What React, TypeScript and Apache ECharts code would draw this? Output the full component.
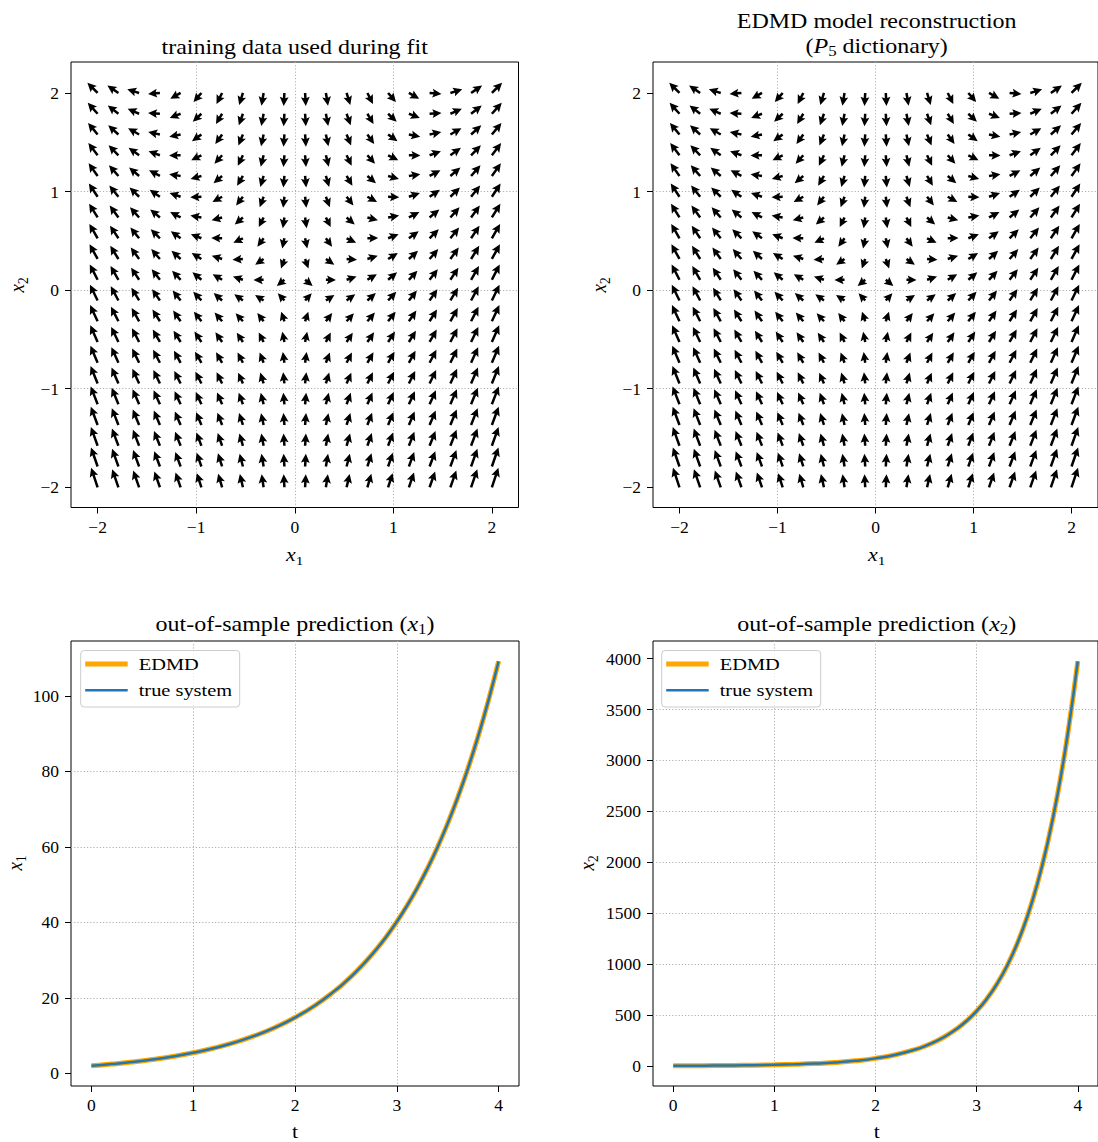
import { useEffect, useRef } from "react";
import * as echarts from "echarts";

// ---- vector field on a 20 x 20 grid over [-2, 2]^2 ----
const gridX1 = [-2, -1.789, -1.579, -1.368, -1.158, -0.947, -0.737, -0.526, -0.316, -0.105, 0.105, 0.316, 0.526, 0.737, 0.947, 1.158, 1.368, 1.579, 1.789, 2];
// rows listed from top (x2 = 2) to bottom (x2 = -2)
const gridX2 = [2, 1.789, 1.579, 1.368, 1.158, 0.947, 0.737, 0.526, 0.316, 0.105, -0.105, -0.316, -0.526, -0.737, -0.947, -1.158, -1.368, -1.579, -1.789, -2];
// horizontal component, one value per column
const fieldU = [-2.0, -1.79, -1.58, -1.37, -1.16, -0.95, -0.74, -0.53, -0.32, -0.11, 0.11, 0.32, 0.53, 0.74, 0.95, 1.16, 1.37, 1.58, 1.79, 2.0];
// vertical component, one row per entry of gridX2
const fieldV = [
  [2.0, 1.2, 0.49, -0.13, -0.66, -1.1, -1.46, -1.72, -1.9, -1.99, -1.99, -1.9, -1.72, -1.46, -1.1, -0.66, -0.13, 0.49, 1.2, 2.0],
  [2.21, 1.41, 0.7, 0.08, -0.45, -0.89, -1.25, -1.51, -1.69, -1.78, -1.78, -1.69, -1.51, -1.25, -0.89, -0.45, 0.08, 0.7, 1.41, 2.21],
  [2.42, 1.62, 0.91, 0.29, -0.24, -0.68, -1.04, -1.3, -1.48, -1.57, -1.57, -1.48, -1.3, -1.04, -0.68, -0.24, 0.29, 0.91, 1.62, 2.42],
  [2.63, 1.83, 1.13, 0.5, -0.03, -0.47, -0.83, -1.09, -1.27, -1.36, -1.36, -1.27, -1.09, -0.83, -0.47, -0.03, 0.5, 1.13, 1.83, 2.63],
  [2.84, 2.04, 1.34, 0.71, 0.18, -0.26, -0.62, -0.88, -1.06, -1.15, -1.15, -1.06, -0.88, -0.62, -0.26, 0.18, 0.71, 1.34, 2.04, 2.84],
  [3.05, 2.25, 1.55, 0.93, 0.39, -0.05, -0.4, -0.67, -0.85, -0.94, -0.94, -0.85, -0.67, -0.4, -0.05, 0.39, 0.93, 1.55, 2.25, 3.05],
  [3.26, 2.46, 1.76, 1.14, 0.6, 0.16, -0.19, -0.46, -0.64, -0.73, -0.73, -0.64, -0.46, -0.19, 0.16, 0.6, 1.14, 1.76, 2.46, 3.26],
  [3.47, 2.68, 1.97, 1.35, 0.82, 0.37, 0.02, -0.25, -0.43, -0.52, -0.52, -0.43, -0.25, 0.02, 0.37, 0.82, 1.35, 1.97, 2.68, 3.47],
  [3.68, 2.89, 2.18, 1.56, 1.03, 0.58, 0.23, -0.04, -0.22, -0.31, -0.31, -0.22, -0.04, 0.23, 0.58, 1.03, 1.56, 2.18, 2.89, 3.68],
  [3.9, 3.1, 2.39, 1.77, 1.24, 0.79, 0.44, 0.17, -0.01, -0.09, -0.09, -0.01, 0.17, 0.44, 0.79, 1.24, 1.77, 2.39, 3.1, 3.9],
  [4.11, 3.31, 2.6, 1.98, 1.45, 1.0, 0.65, 0.38, 0.21, 0.12, 0.12, 0.21, 0.38, 0.65, 1.0, 1.45, 1.98, 2.6, 3.31, 4.11],
  [4.32, 3.52, 2.81, 2.19, 1.66, 1.21, 0.86, 0.59, 0.42, 0.33, 0.33, 0.42, 0.59, 0.86, 1.21, 1.66, 2.19, 2.81, 3.52, 4.32],
  [4.53, 3.73, 3.02, 2.4, 1.87, 1.42, 1.07, 0.8, 0.63, 0.54, 0.54, 0.63, 0.8, 1.07, 1.42, 1.87, 2.4, 3.02, 3.73, 4.53],
  [4.74, 3.94, 3.23, 2.61, 2.08, 1.64, 1.28, 1.01, 0.84, 0.75, 0.75, 0.84, 1.01, 1.28, 1.64, 2.08, 2.61, 3.23, 3.94, 4.74],
  [4.95, 4.15, 3.44, 2.82, 2.29, 1.85, 1.49, 1.22, 1.05, 0.96, 0.96, 1.05, 1.22, 1.49, 1.85, 2.29, 2.82, 3.44, 4.15, 4.95],
  [5.16, 4.36, 3.65, 3.03, 2.5, 2.06, 1.7, 1.44, 1.26, 1.17, 1.17, 1.26, 1.44, 1.7, 2.06, 2.5, 3.03, 3.65, 4.36, 5.16],
  [5.37, 4.57, 3.86, 3.24, 2.71, 2.27, 1.91, 1.65, 1.47, 1.38, 1.38, 1.47, 1.65, 1.91, 2.27, 2.71, 3.24, 3.86, 4.57, 5.37],
  [5.58, 4.78, 4.07, 3.45, 2.92, 2.48, 2.12, 1.86, 1.68, 1.59, 1.59, 1.68, 1.86, 2.12, 2.48, 2.92, 3.45, 4.07, 4.78, 5.58],
  [5.79, 4.99, 4.28, 3.66, 3.13, 2.69, 2.33, 2.07, 1.89, 1.8, 1.8, 1.89, 2.07, 2.33, 2.69, 3.13, 3.66, 4.28, 4.99, 5.79],
  [6.0, 5.2, 4.49, 3.87, 3.34, 2.9, 2.54, 2.28, 2.1, 2.01, 2.01, 2.1, 2.28, 2.54, 2.9, 3.34, 3.87, 4.49, 5.2, 6.0],
];
// the P5 reconstruction agrees with the training field to plotting precision
const edmdFieldU = fieldU;
const edmdFieldV = fieldV;

// ---- out-of-sample trajectories (finer sampling where the curves steepen) ----
const timeT = [0, 0.2, 0.4, 0.6, 0.8, 1.0, 1.2, 1.4, 1.6, 1.8, 2.0, 2.2, 2.4, 2.5, 2.6, 2.7, 2.8, 2.9, 3.0, 3.1, 3.2, 3.3, 3.4, 3.5, 3.6, 3.7, 3.8, 3.9, 4.0];
const edmdX1 = [2.0, 2.44, 2.98, 3.64, 4.45, 5.44, 6.64, 8.11, 9.91, 12.1, 14.78, 18.05, 22.05, 24.36, 26.93, 29.76, 32.89, 36.34, 40.17, 44.4, 49.07, 54.23, 59.93, 66.23, 73.2, 80.89, 89.4, 98.81, 109.2];
const trueX1 = [2.0, 2.44, 2.98, 3.64, 4.45, 5.44, 6.64, 8.11, 9.91, 12.1, 14.78, 18.05, 22.05, 24.36, 26.93, 29.76, 32.89, 36.34, 40.17, 44.4, 49.07, 54.23, 59.93, 66.23, 73.2, 80.89, 89.4, 98.81, 109.2];
const edmdX2 = [0, 0.9, 2.1, 3.7, 6.0, 9.4, 14.3, 21.6, 32.4, 48.6, 72.6, 108.5, 161.9, 197.8, 241.6, 295.1, 360.5, 440.3, 537.8, 656.9, 802.4, 980.1, 1197.1, 1462.1, 1785.9, 2181.3, 2664.2, 3254.1, 3974.6];
const trueX2 = [0, 0.9, 2.1, 3.7, 6.0, 9.4, 14.3, 21.6, 32.4, 48.6, 72.6, 108.5, 161.9, 197.8, 241.6, 295.1, 360.5, 440.3, 537.8, 656.9, 802.4, 980.1, 1197.1, 1462.1, 1785.9, 2181.3, 2664.2, 3254.1, 3974.6];

// ---- tick labels ----
const fieldTicks = [-2, -1, 0, 1, 2];
const timeTicks = [0, 1, 2, 3, 4];
const x1Ticks = [0, 20, 40, 60, 80, 100];
const x2Ticks = [0, 500, 1000, 1500, 2000, 2500, 3000, 3500, 4000];

const EDMD_NAME = "EDMD";
const TRUE_NAME = "true system";

const FONT = "'Liberation Serif', 'DejaVu Serif', serif";
const TICK_SIZE = 17.5;
const ORANGE = "#ffa500";
const BLUE = "#1f77b4";

const minus = (v: number) => String(v).replace("-", "\u2212");

function fieldData(u: number[], v: number[][]) {
  const out: number[][] = [];
  gridX2.forEach((y, i) => {
    gridX1.forEach((x, j) => {
      out.push([x, y, u[j], v[i][j]]);
    });
  });
  return out;
}

// quiver arrow drawn from its tail point; pixel length grows with the vector's magnitude
function renderArrow(_params: any, api: any) {
  const p = api.coord([api.value(0), api.value(1)]);
  const u = api.value(2);
  const v = api.value(3);
  const mag = Math.hypot(u, v);
  const len = 9.5 + 1.75 * mag;
  const ang = Math.atan2(-v, u);
  const c = Math.cos(ang);
  const s = Math.sin(ang);
  const w = 1.25;
  const hw = 4.4;
  const hl = 9.0;
  const ha = 7.8;
  const local = [
    [0, -w], [len - ha, -w], [len - hl, -hw], [len, 0],
    [len - hl, hw], [len - ha, w], [0, w],
  ];
  const points = local.map(([a, b]) => [p[0] + a * c - b * s, p[1] + a * s + b * c]);
  return { type: "polygon", shape: { points }, style: { fill: "#000" } };
}

const splitLine = {
  show: true,
  showMinLine: false,
  showMaxLine: false,
  lineStyle: { color: "#b0b0b0", width: 1, type: [1.2, 2] },
};

function valueAxis(gridIndex: number, min: number, max: number, step: number, ticks: number[], margin: number, splitNumber: number) {
  return {
    type: "value",
    gridIndex,
    min,
    max,
    splitNumber,
    minInterval: step,
    maxInterval: step,
    axisLine: { show: false, onZero: false },
    axisTick: { show: true, inside: false, length: 6, lineStyle: { color: "#000", width: 1 }, customValues: ticks },
    axisLabel: {
      customValues: ticks,
      formatter: minus,
      margin,
      color: "#000",
      fontFamily: FONT,
      fontSize: TICK_SIZE,
    },
    splitLine,
  };
}

const rich = (size: number) => ({
  r: { fontFamily: FONT, fontSize: size, color: "#000", lineHeight: size + 4 },
  i: { fontFamily: FONT, fontSize: size, fontStyle: "italic", color: "#000", lineHeight: size + 4 },
  s: { fontFamily: FONT, fontSize: size * 0.7, color: "#000", verticalAlign: "bottom", lineHeight: size * 0.7 },
});

// centred text; the horizontal stretch widens the serif face towards TeX proportions
function label(x: number, y: number, text: string, size: number, stretch: number, rotate = false) {
  return {
    type: "text",
    x,
    y,
    rotation: rotate ? Math.PI / 2 : 0,
    scaleX: rotate ? 1 : stretch,
    scaleY: rotate ? stretch : 1,
    style: {
      text,
      rich: rich(size),
      align: "center",
      verticalAlign: "middle",
      textAlign: "center",
      textVerticalAlign: "middle",
    },
    z: 50,
  };
}

function legend(x0: number, y0: number) {
  const entry = (text: string, y: number) => ({
    type: "text",
    x: x0 + 58,
    y,
    scaleX: 1.2,
    style: {
      text,
      fontFamily: FONT,
      fontSize: 17,
      fill: "#000",
      align: "left",
      verticalAlign: "middle",
      textAlign: "left",
      textVerticalAlign: "middle",
    },
    z: 61,
  });
  return [
    {
      type: "rect",
      shape: { x: x0, y: y0, width: 159, height: 56.5, r: 3.5 },
      style: { fill: "rgba(255,255,255,0.8)", stroke: "#cccccc", lineWidth: 1 },
      z: 60,
    },
    { type: "line", shape: { x1: x0 + 4.5, y1: y0 + 13.5, x2: x0 + 47, y2: y0 + 13.5 }, style: { stroke: ORANGE, lineWidth: 5 }, z: 61 },
    entry(EDMD_NAME, y0 + 13.5),
    { type: "line", shape: { x1: x0 + 4.5, y1: y0 + 39.8, x2: x0 + 47, y2: y0 + 39.8 }, style: { stroke: BLUE, lineWidth: 2.5 }, z: 61 },
    entry(TRUE_NAME, y0 + 39.8),
  ];
}

const pairs = (ys: number[]) => timeT.map((t, k) => [t, ys[k]]);

export default function App() {
  const ref = useRef<HTMLDivElement>(null);

  useEffect(() => {
    if (!ref.current) return;
    const chart = echarts.init(ref.current, undefined, { renderer: "svg" });

    const gridBox = { show: true, borderColor: "#000", borderWidth: 1, backgroundColor: "transparent" };

    const lineSeries = (name: string, ys: number[], color: string, width: number, idx: number, z: number) => ({
      type: "line",
      name,
      xAxisIndex: idx,
      yAxisIndex: idx,
      data: pairs(ys),
      showSymbol: false,
      symbol: "none",
      smooth: true,
      lineStyle: { color, width },
      itemStyle: { color },
      z,
    });

    const option: any = {
      animation: false,
      backgroundColor: "#fff",
      grid: [
        { left: 71, top: 62, width: 447.5, height: 445.5, ...gridBox },
        { left: 653, top: 62, width: 447.5, height: 445.5, ...gridBox },
        { left: 71, top: 641, width: 448, height: 445, ...gridBox },
        { left: 653, top: 641, width: 447.5, height: 445, ...gridBox },
      ],
      xAxis: [
        valueAxis(0, -2.27, 2.27, 1, fieldTicks, 10, 5),
        valueAxis(1, -2.27, 2.27, 1, fieldTicks, 10, 5),
        valueAxis(2, -0.2, 4.2, 1, timeTicks, 10, 5),
        valueAxis(3, -0.2, 4.2, 1, timeTicks, 10, 5),
      ],
      yAxis: [
        valueAxis(0, -2.205, 2.314, 1, fieldTicks, 12, 5),
        valueAxis(1, -2.205, 2.314, 1, fieldTicks, 12, 5),
        valueAxis(2, -3.36, 114.56, 20, x1Ticks, 12, 6),
        valueAxis(3, -198.7, 4173.3, 500, x2Ticks, 12, 9),
      ],
      series: [
        {
          type: "custom",
          name: "training data",
          xAxisIndex: 0,
          yAxisIndex: 0,
          data: fieldData(fieldU, fieldV),
          encode: { x: 0, y: 1 },
          renderItem: renderArrow,
          clip: false,
          silent: true,
        },
        {
          type: "custom",
          name: "EDMD reconstruction",
          xAxisIndex: 1,
          yAxisIndex: 1,
          data: fieldData(edmdFieldU, edmdFieldV),
          encode: { x: 0, y: 1 },
          renderItem: renderArrow,
          clip: false,
          silent: true,
        },
        lineSeries(EDMD_NAME, edmdX1, ORANGE, 5, 2, 2),
        lineSeries(TRUE_NAME, trueX1, BLUE, 2.5, 2, 3),
        lineSeries(EDMD_NAME, edmdX2, ORANGE, 5, 3, 2),
        lineSeries(TRUE_NAME, trueX2, BLUE, 2.5, 3, 3),
      ],
      graphic: [
        label(294.7, 47, "{r|training data used during fit}", 20, 1.2),
        label(876.7, 21, "{r|EDMD model reconstruction}", 20, 1.2),
        label(876.7, 46, "{r|(}{i|P}{s|5}{r| dictionary)}", 20, 1.2),
        label(295, 624, "{r|out-of-sample prediction (}{i|x}{s|1}{r|)}", 20, 1.2),
        label(876.7, 624, "{r|out-of-sample prediction (}{i|x}{s|2}{r|)}", 20, 1.2),
        label(294.7, 555, "{i|x}{s|1}", 19, 1.15),
        label(876.7, 555, "{i|x}{s|1}", 19, 1.15),
        label(295, 1132, "{r|t}", 19, 1.15),
        label(876.7, 1132, "{r|t}", 19, 1.15),
        label(17, 285, "{i|x}{s|2}", 19, 1.15, true),
        label(599, 285, "{i|x}{s|2}", 19, 1.15, true),
        label(15, 863, "{i|x}{s|1}", 19, 1.15, true),
        label(587, 863, "{i|x}{s|2}", 19, 1.15, true),
        ...legend(80.7, 650.5),
        ...legend(661.7, 650.5),
      ],
    };

    chart.setOption(option);
    return () => chart.dispose();
  }, []);

  return (
    <div
      ref={ref}
      style={{ position: "absolute", left: 0, top: 0, width: 1098, height: 1142, background: "#fff" }}
    />
  );
}
